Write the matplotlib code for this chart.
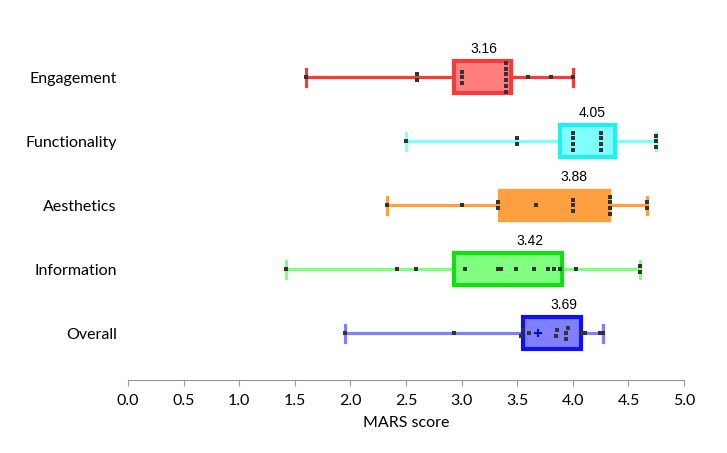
import numpy as np
import matplotlib
matplotlib.use("Agg")
import matplotlib.pyplot as plt

# MARS subscale scores per app
categories = ["Engagement", "Functionality", "Aesthetics", "Information", "Overall"]
engagement = [1.6, 2.6, 2.6, 3.0, 3.0, 3.0, 3.4, 3.4, 3.4, 3.4, 3.4, 3.4, 3.6, 3.8, 4.0]
functionality = [2.5, 3.5, 3.5, 4.0, 4.0, 4.0, 4.0, 4.25, 4.25, 4.25, 4.25, 4.75, 4.75, 4.75]
aesthetics = [2.33, 3.0, 3.33, 3.33, 3.67, 4.0, 4.0, 4.0, 4.33, 4.33, 4.33, 4.33, 4.67, 4.67]
information = [1.42, 2.42, 2.59, 3.03, 3.33, 3.35, 3.49, 3.65, 3.78, 3.83, 3.88, 4.03, 4.6, 4.6]
overall = [1.95, 2.93, 3.53, 3.55, 3.61, 3.85, 3.86, 3.94, 3.94, 3.96, 4.08, 4.11, 4.24, 4.27]
q1 = [2.93, 3.88, 3.33, 2.93, 3.55]
q3 = [3.44, 4.38, 4.33, 3.90, 4.07]
means = [3.16, 4.05, 3.88, 3.42, 3.69]
xticks = [0.0, 0.5, 1.0, 1.5, 2.0, 2.5, 3.0, 3.5, 4.0, 4.5, 5.0]

data = [engagement, functionality, aesthetics, information, overall]

# styling
edge_c = ["#f43c3c", "#22f0f0", "#ffa040", "#10e010", "#1010f0"]
fill_c = ["#ff7f7f", "#80ffff", "#ffa040", "#80ff80", "#8080ff"]
whisk_c = ["#f43c3c", "#80ffff", "#ffa040", "#80ff80", "#8080ff"]
edge_w = [3, 3, 1, 3, 3]
stack_tol = [0.001, 0.001, 0.001, 0.001, 0.025]
label_dx = [2, 5, 20, 22, 12]

fig = plt.figure(figsize=(7.27, 4.53), dpi=100)
ax = fig.add_axes([0.176, 0.161, 0.765, 0.7714])

pos = [4, 3, 2, 1, 0]
stats = []
for i, vals in enumerate(data):
    stats.append(dict(med=np.median(vals), q1=q1[i], q3=q3[i],
                      whislo=min(vals), whishi=max(vals), fliers=[]))

bp = ax.bxp(stats, positions=pos, widths=0.5, orientation='horizontal',
            patch_artist=True, showfliers=False, capwidths=0.26)
for i in range(5):
    b = bp['boxes'][i]
    b.set_facecolor(fill_c[i])
    b.set_edgecolor(edge_c[i])
    b.set_linewidth(edge_w[i])
    b.set_zorder(2)
    bp['medians'][i].set_visible(False)
    for k in (2 * i, 2 * i + 1):
        bp['whiskers'][k].set_color(whisk_c[i])
        bp['whiskers'][k].set_linewidth(2.3)
        bp['whiskers'][k].set_zorder(1)
        bp['caps'][k].set_color(whisk_c[i])
        bp['caps'][k].set_linewidth(2.3)

# dots, duplicates stacked vertically
for i, vals in enumerate(data):
    v = np.sort(np.array(vals))
    ys = np.zeros(len(v))
    start = 0
    while start < len(v):
        end = start
        while end + 1 < len(v) and v[end + 1] - v[start] <= stack_tol[i]:
            end += 1
        n = end - start + 1
        ys[start:end + 1] = (np.arange(n) - (n - 1) / 2) * 0.09
        start = end + 1
    ax.scatter(v, pos[i] + ys, marker='s', s=10, color='#333333', zorder=4, linewidths=0)
    ax.annotate(f"{means[i]:.2f}", xy=((q1[i] + q3[i]) / 2, pos[i] + 0.33),
                xytext=(label_dx[i] * 0.72, 0), textcoords='offset points',
                ha='center', va='bottom', fontsize=10, family='Liberation Sans')

# mean marker on the overall box
ax.plot([means[4]], [pos[4]], marker='P', color='#0000ff', markersize=6, zorder=5,
        markeredgewidth=0)

ax.set_xlim(0, 5)
ax.set_ylim(-0.73, 4.73)
ax.set_xticks(xticks)
ax.set_xticklabels([f"{t:.1f}" for t in xticks])
ax.set_yticks(pos)
ax.set_yticklabels(categories)
for lab in ax.get_xticklabels() + ax.get_yticklabels():
    lab.set_family('Lato')
    lab.set_fontsize(11.5)
ax.set_xlabel("MARS score", fontsize=11.5, family='Lato', labelpad=6)

for s in ('top', 'right', 'left'):
    ax.spines[s].set_visible(False)
ax.spines['bottom'].set_color('#999999')
ax.tick_params(axis='x', color='#999999', length=4, direction='out', pad=6)
ax.tick_params(axis='y', length=0, pad=8)

fig.savefig("out.png", dpi=100)
